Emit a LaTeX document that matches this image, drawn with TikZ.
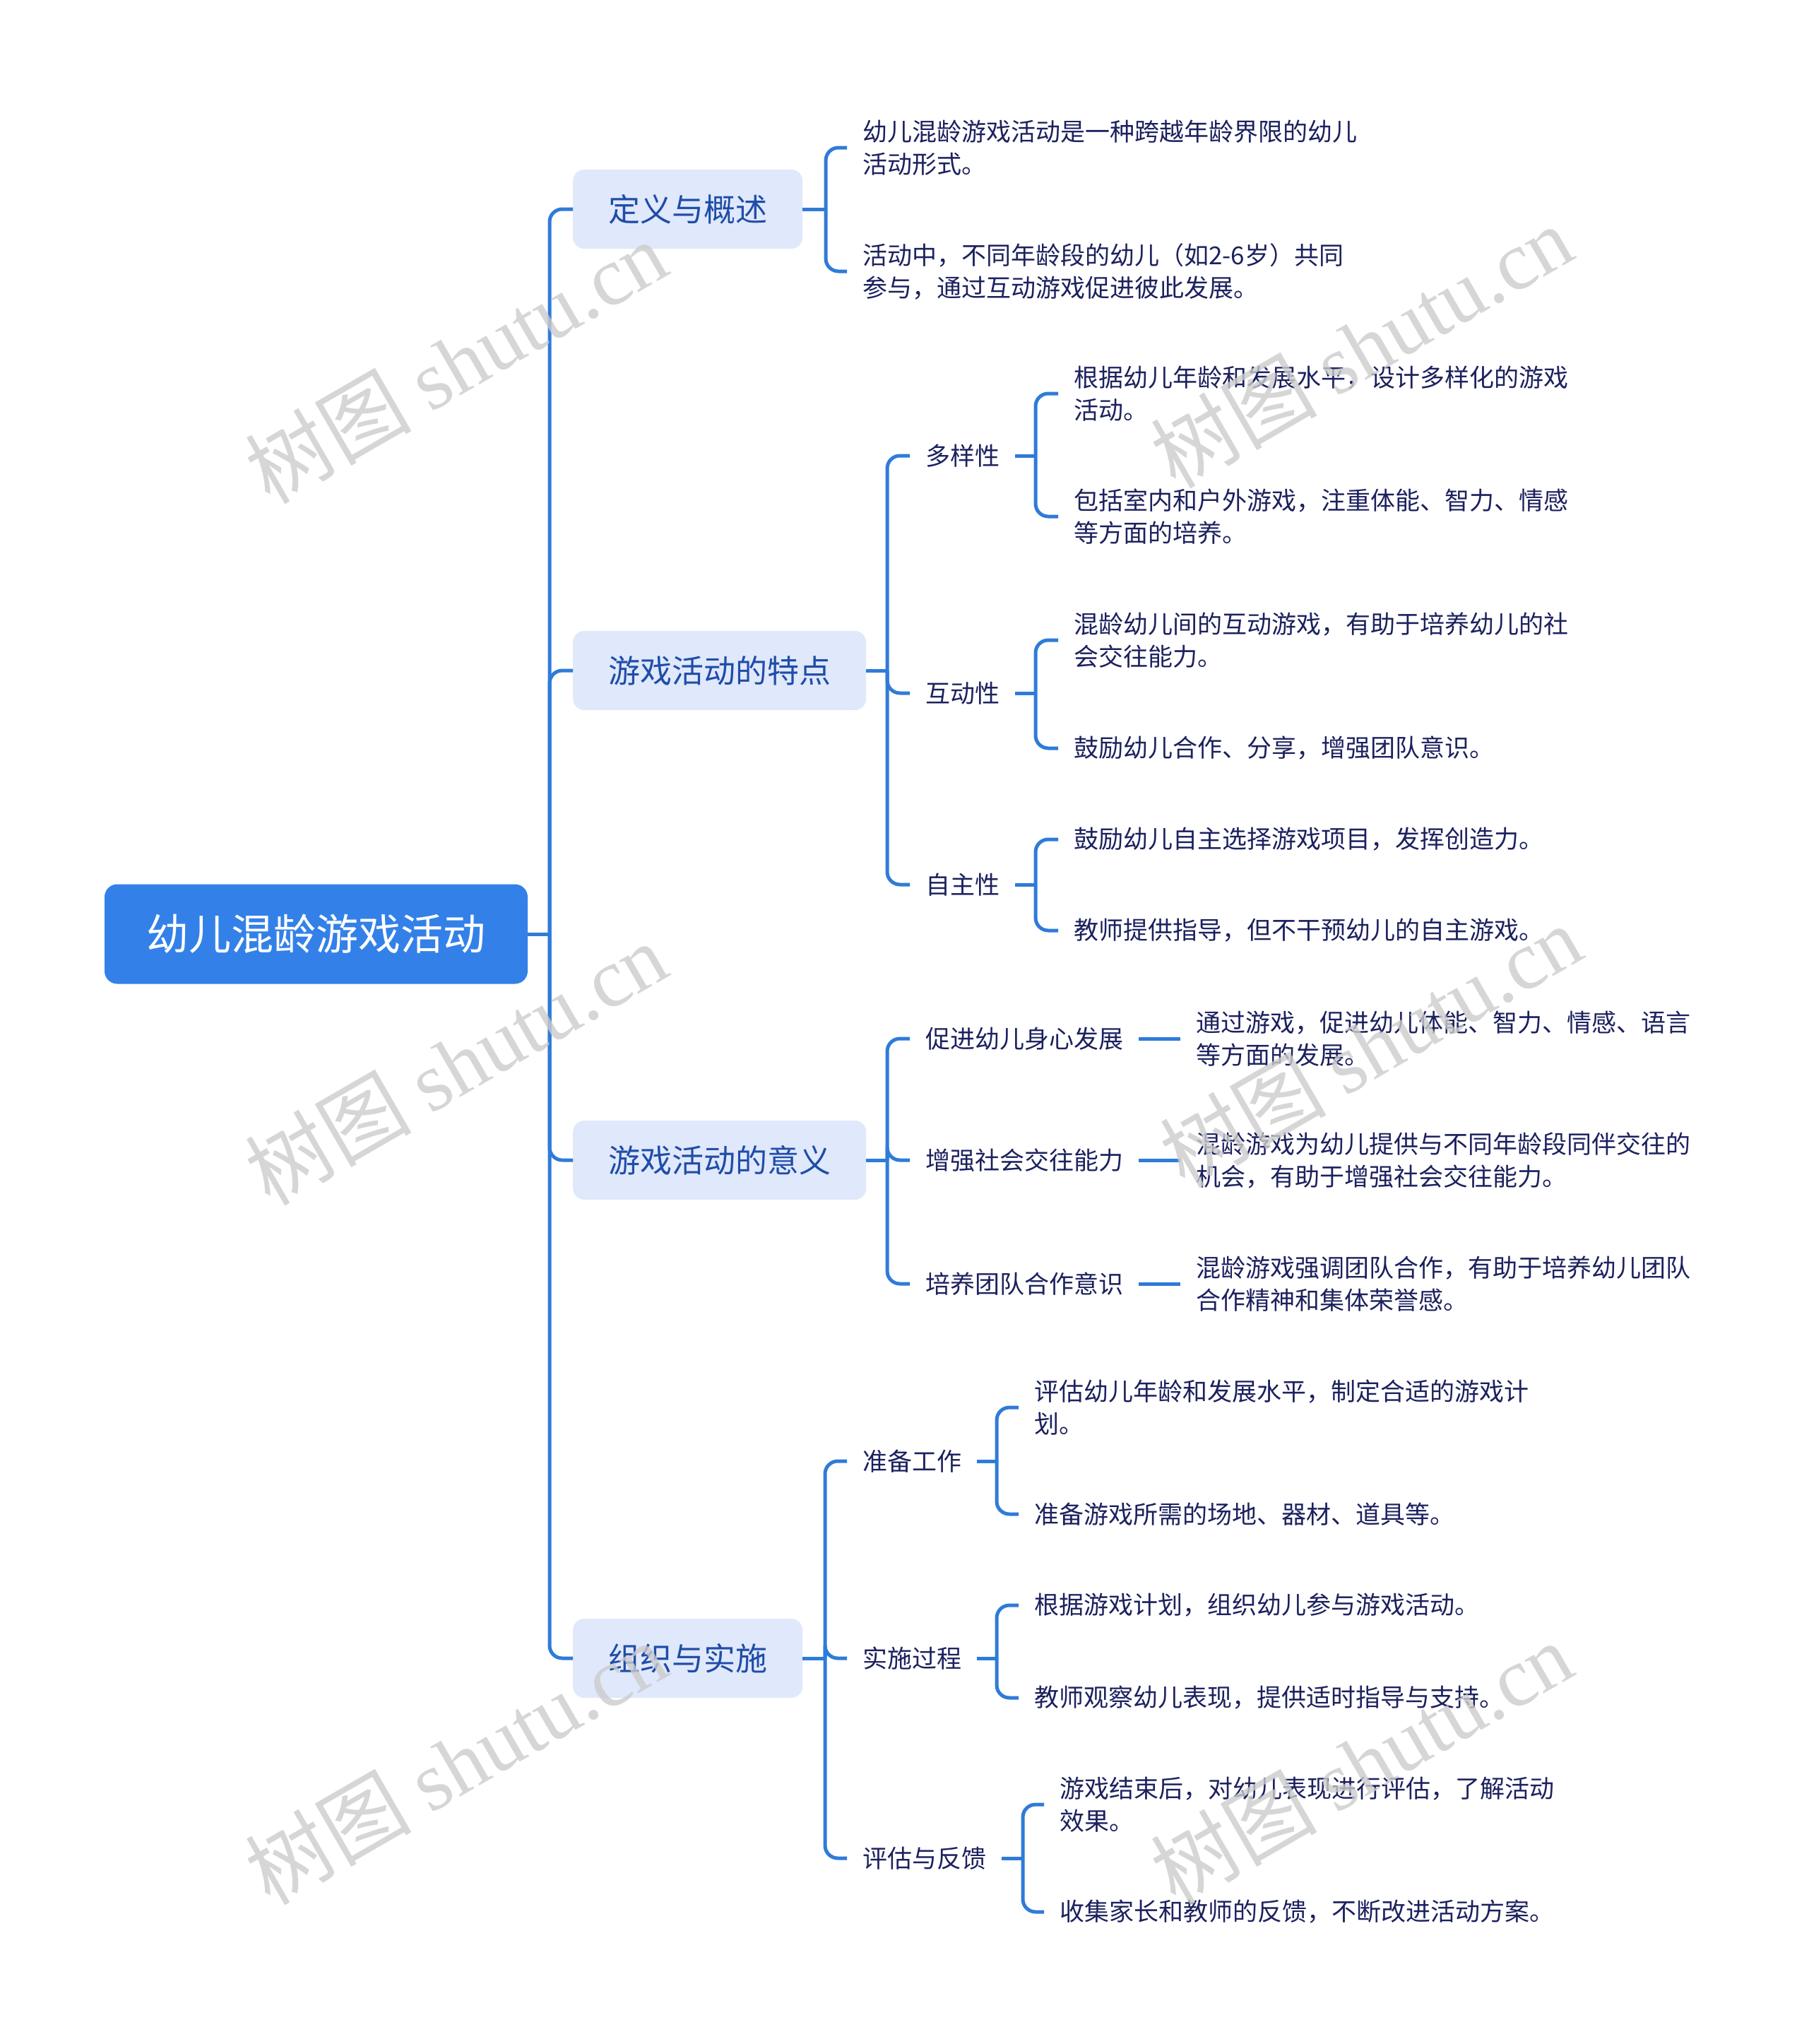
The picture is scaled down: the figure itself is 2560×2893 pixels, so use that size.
\documentclass[tikz,border=0pt]{standalone}
\usepackage{fontspec}
\setmainfont{Noto Sans CJK SC}
\newfontfamily\wmlatin{Liberation Serif}
\definecolor{rootblue}{HTML}{3381E8}
\definecolor{lonefill}{HTML}{E0E8FB}
\definecolor{lonetext}{HTML}{1F4DA8}
\definecolor{leaftext}{HTML}{1C215E}
\definecolor{linecol}{HTML}{2F7BD8}
\tikzset{
  rootbox/.style={fill=rootblue, rounded corners=18pt, text=white, font=\fontsize{60}{72}\selectfont, minimum width=599pt, minimum height=141pt, inner sep=0pt},
  lonebox/.style={fill=lonefill, rounded corners=16pt, text=lonetext, font=\fontsize{45}{54}\selectfont, minimum height=112pt, inner xsep=50pt, inner ysep=0pt, anchor=west},
  ltwo/.style={text=leaftext, font=\fontsize{35}{46}\selectfont, inner xsep=22pt, inner ysep=0pt, anchor=west},
  leaf/.style={text=leaftext, font=\fontsize{35}{46}\selectfont, align=left, inner xsep=22pt, inner ysep=0pt, anchor=west},
  conn/.style={draw=linecol, line width=5pt, rounded corners=18pt},
  wmark/.style={text=black!20, rotate=30, font=\fontsize{118}{130}\selectfont, opacity=0.8},
}
\begin{document}
\begin{tikzpicture}[x=1pt,y=-1pt]
\useasboundingbox (0,0) rectangle (2560,2893);
% root
\node[rootbox] (root) at (447.5,1322) {幼儿混龄游戏活动};
% level 1
\node[lonebox] (def) at (811,296) {定义与概述};
\node[lonebox] (feat) at (811,949) {游戏活动的特点};
\node[lonebox] (mean) at (811,1642) {游戏活动的意义};
\node[lonebox] (org) at (811,2347) {组织与实施};
% trunk
\coordinate (tk) at (778,1322);
\draw[conn] (root.east) -- (tk);
\foreach \n in {def,feat,mean,org} \draw[conn] (tk) |- (\n.west);

% definition leaves
\node[leaf] (d1) at (1199,209) {幼儿混龄游戏活动是一种跨越年龄界限的幼儿\\活动形式。};
\node[leaf] (d2) at (1199,384) {活动中，不同年龄段的幼儿（如2-6岁）共同\\参与，通过互动游戏促进彼此发展。};
\coordinate (bdef) at (1169,296);
\draw[conn] (def.east) -- (bdef);
\foreach \n in {d1,d2} \draw[conn] (bdef) |- (\n.west);

% features
\node[ltwo] (f1) at (1288,645) {多样性};
\node[ltwo] (f2) at (1288,981) {互动性};
\node[ltwo] (f3) at (1288,1252) {自主性};
\coordinate (bfeat) at (1256,949);
\draw[conn] (feat.east) -- (bfeat);
\foreach \n in {f1,f2,f3} \draw[conn] (bfeat) |- (\n.west);

\node[leaf] (f1a) at (1498,557) {根据幼儿年龄和发展水平，设计多样化的游戏\\活动。};
\node[leaf] (f1b) at (1498,731) {包括室内和户外游戏，注重体能、智力、情感\\等方面的培养。};
\coordinate (bf1) at (1466,645);
\draw[conn] (f1.east) -- (bf1);
\foreach \n in {f1a,f1b} \draw[conn] (bf1) |- (\n.west);

\node[leaf] (f2a) at (1498,906) {混龄幼儿间的互动游戏，有助于培养幼儿的社\\会交往能力。};
\node[leaf] (f2b) at (1498,1059) {鼓励幼儿合作、分享，增强团队意识。};
\coordinate (bf2) at (1466,981);
\draw[conn] (f2.east) -- (bf2);
\foreach \n in {f2a,f2b} \draw[conn] (bf2) |- (\n.west);

\node[leaf] (f3a) at (1498,1188) {鼓励幼儿自主选择游戏项目，发挥创造力。};
\node[leaf] (f3b) at (1498,1317) {教师提供指导，但不干预幼儿的自主游戏。};
\coordinate (bf3) at (1466,1252);
\draw[conn] (f3.east) -- (bf3);
\foreach \n in {f3a,f3b} \draw[conn] (bf3) |- (\n.west);

% meaning
\node[ltwo] (m1) at (1288,1470) {促进幼儿身心发展};
\node[ltwo] (m2) at (1288,1642) {增强社会交往能力};
\node[ltwo] (m3) at (1288,1817) {培养团队合作意识};
\coordinate (bmean) at (1256,1642);
\draw[conn] (mean.east) -- (bmean);
\foreach \n in {m1,m2,m3} \draw[conn] (bmean) |- (\n.west);

\node[leaf] (m1a) at (1671,1470) {通过游戏，促进幼儿体能、智力、情感、语言\\等方面的发展。};
\node[leaf] (m2a) at (1671,1642) {混龄游戏为幼儿提供与不同年龄段同伴交往的\\机会，有助于增强社会交往能力。};
\node[leaf] (m3a) at (1671,1817) {混龄游戏强调团队合作，有助于培养幼儿团队\\合作精神和集体荣誉感。};
\draw[conn] (m1.east) -- (m1a.west);
\draw[conn] (m2.east) -- (m2a.west);
\draw[conn] (m3.east) -- (m3a.west);

% organisation
\node[ltwo] (o1) at (1199,2068) {准备工作};
\node[ltwo] (o2) at (1199,2347) {实施过程};
\node[ltwo] (o3) at (1199,2630) {评估与反馈};
\coordinate (borg) at (1168,2347);
\draw[conn] (org.east) -- (borg);
\foreach \n in {o1,o2,o3} \draw[conn] (borg) |- (\n.west);

\node[leaf] (o1a) at (1442,1992) {评估幼儿年龄和发展水平，制定合适的游戏计\\划。};
\node[leaf] (o1b) at (1442,2143) {准备游戏所需的场地、器材、道具等。};
\coordinate (bo1) at (1411,2068);
\draw[conn] (o1.east) -- (bo1);
\foreach \n in {o1a,o1b} \draw[conn] (bo1) |- (\n.west);

\node[leaf] (o2a) at (1442,2272) {根据游戏计划，组织幼儿参与游戏活动。};
\node[leaf] (o2b) at (1442,2403) {教师观察幼儿表现，提供适时指导与支持。};
\coordinate (bo2) at (1411,2347);
\draw[conn] (o2.east) -- (bo2);
\foreach \n in {o2a,o2b} \draw[conn] (bo2) |- (\n.west);

\node[leaf] (o3a) at (1478,2554) {游戏结束后，对幼儿表现进行评估，了解活动\\效果。};
\node[leaf] (o3b) at (1478,2706) {收集家长和教师的反馈，不断改进活动方案。};
\coordinate (bo3) at (1448,2630);
\draw[conn] (o3.east) -- (bo3);
\foreach \n in {o3a,o3b} \draw[conn] (bo3) |- (\n.west);

% watermarks
\node[wmark] (w1) at (645,512) {树图 {\wmlatin shutu.cn}};
\node[wmark] (w2) at (1927,490) {树图 {\wmlatin shutu.cn}};
\node[wmark] (w3) at (645,1505) {树图 {\wmlatin shutu.cn}};
\node[wmark] (w4) at (1940,1480) {树图 {\wmlatin shutu.cn}};
\node[wmark] (w5) at (645,2495) {树图 {\wmlatin shutu.cn}};
\node[wmark] (w6) at (1927,2495) {树图 {\wmlatin shutu.cn}};
\end{tikzpicture}
\end{document}
